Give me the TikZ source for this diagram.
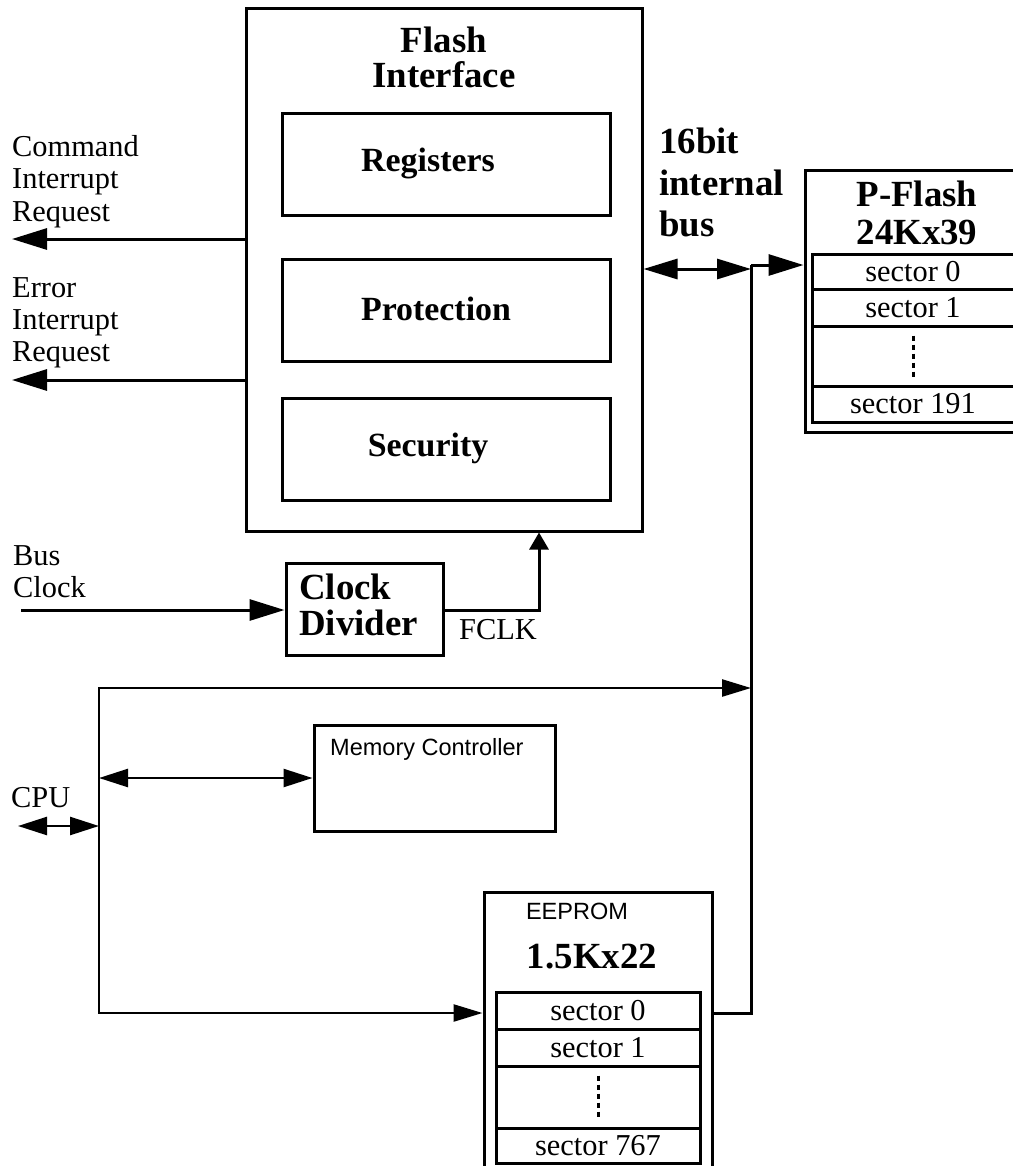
\documentclass[tikz,border=0pt]{standalone}
\usepackage{fontspec}
\setmainfont{Liberation Serif}
\setsansfont{Liberation Sans}
\usetikzlibrary{arrows.meta}
\newcommand\txtsize{\fontsize{30.5}{32.5}\selectfont}
\newcommand\headsize{\fontsize{37}{38}\selectfont}
\newcommand\labsize{\fontsize{23.6}{26}\selectfont}

\begin{document}
\begin{tikzpicture}[x=1bp,y=-1bp,
  every node/.style={inner sep=0pt,font=\txtsize},
  block/.style={draw,line width=3bp},
  unit/.style={block,minimum width=328bp,minimum height=102bp},
  unittext/.style={font=\fontsize{34}{36}\selectfont\bfseries},
  cell/.style={draw,line width=3bp,minimum width=204bp},
  head/.style={font=\headsize\bfseries},
  wire/.style={line width=3bp},
  thinwire/.style={line width=2.5bp},
  bigtip/.style={-{Triangle[length=35bp,width=21bp]}},
  bigdbl/.style={{Triangle[length=34bp,width=20bp]}-{Triangle[length=34bp,width=20bp]}},
  midtip/.style={-{Triangle[length=29bp,width=17bp]}},
  middbl/.style={{Triangle[length=29bp,width=18bp]}-{Triangle[length=29bp,width=18bp]}},
  smalltip/.style={-{Triangle[length=17bp,width=19bp]}},
  dotline/.style={line width=3bp,dash pattern=on 5bp off 4bp}]
\useasboundingbox (0,0) rectangle (1013,1166);

% flash interface
\node[block,minimum width=396bp,minimum height=523bp] (flashif) at (444,269.5) {};
\node[head,align=center,anchor=north] (fititle) at (444,27) {Flash\\[-3bp]Interface};
\node[unit] (regs) at (446,164) {};
\node[unit] (prot) at (446,310) {};
\node[unit] (secu) at (446,449) {};
\node[unittext] (regstext) at (428,163) {Registers};
\node[unittext] (prottext) at (436,309) {Protection};
\node[unittext] (secutext) at (428,448) {Security};

% interrupt outputs
\node[align=left,anchor=north west] (cmdtext) at (12,135) {Command\\Interrupt\\Request};
\node[align=left,anchor=north west] (errtext) at (12,277) {Error\\Interrupt\\Request};
\coordinate (cmdirq) at (12,239);
\coordinate (errirq) at (12,380);
\draw[wire,bigtip] (flashif.west |- cmdirq) -- (cmdirq);
\draw[wire,bigtip] (flashif.west |- errirq) -- (errirq);

% clock
\node[align=left,anchor=north west] (clktext) at (13,545) {Bus\\Clock};
\node[block,minimum width=157bp,minimum height=92bp] (clkdiv) at (364.5,609) {};
\node[head,align=left,anchor=north west] (clkdivtext) at (299,574) {Clock\\[-2bp]Divider};
\coordinate (busclk) at (21,610);
\coordinate (fclk) at (539,610);
\draw[wire,bigtip] (busclk) -- (clkdiv.west |- busclk);
\draw[wire,smalltip] (clkdiv.east |- fclk) -- (fclk) -- (fclk |- flashif.south);
\node (fclklabel) at (498,630) {FCLK};

% p-flash
\node[head,align=left,anchor=north west] (bustext) at (659,128) {16bit\\[3.5bp]internal\\[3.5bp]bus};
\node[block,minimum width=216bp,minimum height=262bp] (pflash) at (913,301) {};
\node[head,align=center,anchor=north] (pftitle) at (917,181) {P-Flash\\24Kx39};
\node[cell,minimum width=202bp,minimum height=35bp] (pf0) at (913,271.5) {sector 0};
\node[cell,minimum width=202bp,minimum height=37bp] (pf1) at (913,307.5) {sector 1};
\node[cell,minimum width=202bp,minimum height=60bp] (pfd) at (913,356) {};
\node[cell,minimum width=202bp,minimum height=36bp] (pfl) at (913,404) {sector 191};
\draw[dotline] ([yshift=-11bp]pfd.north) -- ([yshift=9bp]pfd.south);

% memory controller and eeprom
\node[block,minimum width=241bp,minimum height=106bp] (memctl) at (434.5,778) {};
\node[font=\labsize\sffamily,anchor=north west] (memlabel) at (330,738) {Memory Controller};
\node[block,minimum width=228bp,minimum height=290bp] (eeprom) at (598,1037) {};
\node[font=\labsize\sffamily] (eelabel) at (577,911) {EEPROM};
\node[head] (eesize) at (592,957) {1.5Kx22};
\node[cell,minimum height=37bp] (ee0) at (598,1010.5) {sector 0};
\node[cell,minimum height=37bp] (ee1) at (598,1047.5) {sector 1};
\node[cell,minimum height=62bp] (eed) at (598,1097) {};
\node[cell,minimum height=35bp] (eel) at (598,1145.5) {sector 767};
\draw[dotline] ([yshift=-11bp]eed.north) -- ([yshift=12bp]eed.south);

% busses
\node[anchor=north west] (cputext) at (11,787) {CPU};
\coordinate (busA) at (751,269);
\coordinate (bustop) at (751,265);
\coordinate (cpu) at (18,826);
\coordinate (cpuj) at (99,826);
\coordinate (looptop) at (99,688);
\coordinate (loopbot) at (99,1013);
\draw[wire,bigdbl] (flashif.east |- busA) -- (busA);
\draw[wire,bigtip] (bustop) -- (pflash.west |- bustop);
\draw[wire] (bustop) |- (eeprom.east |- loopbot);
\draw[thinwire,midtip] (cpuj) -- (looptop) -- (looptop -| bustop);
\draw[thinwire,midtip] (cpuj) -- (loopbot) -- (eeprom.west |- loopbot);
\draw[thinwire,middbl] (cpuj |- memctl.west) -- (memctl.west);
\draw[thinwire,middbl] (cpu) -- (cpuj);
\end{tikzpicture}
\end{document}
